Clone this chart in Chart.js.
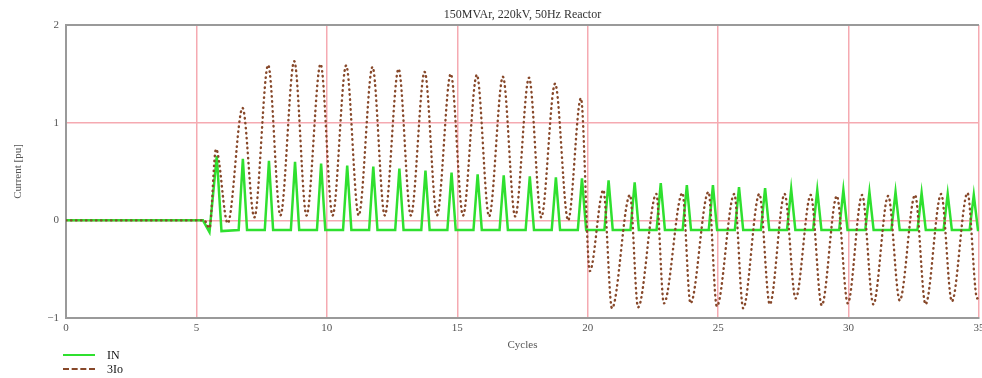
<!DOCTYPE html>
<html>
<head>
<meta charset="utf-8">
<script src="https://cdn.jsdelivr.net/npm/chart.js@4.4.1/dist/chart.umd.min.js"></script>
<style>
  html, body { margin: 0; padding: 0; background: #fff; width: 982px; height: 378px; overflow: hidden; }
  #wrap { position: relative; width: 992px; height: 378px; }
  #legend { position: absolute; left: 63px; top: 348px; font: 12px 'Liberation Serif', serif; color: #111; }
  .row { display: flex; align-items: center; height: 14px; }
  .sw { width: 32px; height: 0; margin-right: 12px; }
</style>
</head>
<body>
<div id="wrap">
  <canvas id="c" width="992" height="378"></canvas>
  <div id="legend"></div>
</div>
<script>
// ---- Data ----
const chartTitle = '150MVAr, 220kV, 50Hz Reactor';
const xTitle = 'Cycles';
const yTitle = 'Current [pu]';
const xTicks = [0, 5, 10, 15, 20, 25, 30, 35];
const yTicks = [-1, 0, 1, 2];
const yTickLabels = ['\u22121', '0', '1', '2'];
const seriesNames = ['IN', '3Io'];

// 3Io turning points (cycles, pu)
const io3Times = [0, 5.3, 5.5, 5.75, 6.2,
  6.77, 7.22, 7.75, 8.22, 8.75,
  9.22, 9.76, 10.22, 10.74, 11.22,
  11.75, 12.22, 12.75, 13.22, 13.75,
  14.22, 14.75, 15.22, 15.75, 16.22,
  16.75, 17.22, 17.75, 18.22, 18.75,
  19.25, 19.74, 20.08, 20.6, 20.93,
  21.62, 21.93, 22.63, 22.92, 23.63,
  23.94, 24.63, 24.95, 25.62, 25.96,
  26.58, 26.98, 27.55, 27.97, 28.55,
  28.97, 29.55, 29.97, 30.52, 30.95,
  31.52, 31.96, 32.55, 32.95, 33.55,
  33.96, 34.56, 34.93, 35];
const io3Values = [0, 0, -0.08, 0.73, -0.03,
  1.15, 0.03, 1.59, 0.05, 1.63,
  0.05, 1.60, 0.05, 1.585, 0.05,
  1.57, 0.05, 1.55, 0.05, 1.52,
  0.05, 1.50, 0.05, 1.49, 0.04,
  1.47, 0.04, 1.46, 0.03, 1.40,
  0.0, 1.25, -0.52, 0.31, -0.90,
  0.26, -0.89, 0.27, -0.85, 0.28,
  -0.85, 0.29, -0.88, 0.27, -0.90,
  0.27, -0.86, 0.27, -0.80, 0.26,
  -0.87, 0.25, -0.85, 0.26, -0.86,
  0.25, -0.82, 0.26, -0.86, 0.27,
  -0.83, 0.28, -0.80, -0.78];

// IN turning points (cycles, pu)
const inTimes = [0, 5.25, 5.5, 5.78, 5.96,
  6.62, 6.78, 6.94, 7.62, 7.78, 7.94, 8.62, 8.78, 8.94, 9.62, 9.78, 9.94,
  10.62, 10.78, 10.94, 11.62, 11.78, 11.94, 12.62, 12.78, 12.94, 13.62, 13.78, 13.94,
  14.62, 14.78, 14.94, 15.62, 15.78, 15.94, 16.62, 16.78, 16.94, 17.62, 17.78, 17.94,
  18.62, 18.78, 18.94, 19.62, 19.78, 19.94, 20.64, 20.8, 20.96, 21.64, 21.8, 21.96,
  22.64, 22.8, 22.96, 23.64, 23.8, 23.96, 24.64, 24.8, 24.96, 25.64, 25.8, 25.96,
  26.64, 26.8, 26.96, 27.64, 27.8, 27.96, 28.64, 28.8, 28.96, 29.64, 29.8, 29.96,
  30.64, 30.8, 30.96, 31.64, 31.8, 31.96, 32.64, 32.8, 32.96, 33.64, 33.8, 33.96,
  34.64, 34.8, 34.96, 35];
const inValues = [0, 0, -0.12, 0.66, -0.11,
  -0.1, 0.63, -0.1, -0.1, 0.61, -0.1, -0.1, 0.60, -0.1, -0.1, 0.58, -0.1,
  -0.1, 0.56, -0.1, -0.1, 0.55, -0.1, -0.1, 0.53, -0.1, -0.1, 0.51, -0.1,
  -0.1, 0.49, -0.1, -0.1, 0.47, -0.1, -0.1, 0.46, -0.1, -0.1, 0.45, -0.1,
  -0.1, 0.44, -0.1, -0.1, 0.43, -0.1, -0.1, 0.41, -0.1, -0.1, 0.39, -0.1,
  -0.1, 0.38, -0.1, -0.1, 0.36, -0.1, -0.1, 0.36, -0.1, -0.1, 0.34, -0.1,
  -0.1, 0.33, -0.1, -0.1, 0.32, -0.1, -0.1, 0.31, -0.1, -0.1, 0.31, -0.1,
  -0.1, 0.29, -0.1, -0.1, 0.29, -0.1, -0.1, 0.28, -0.1, -0.1, 0.27, -0.1,
  -0.1, 0.26, -0.1, -0.1];

// ---- Chart ----
const toPts = (xs, ys) => xs.map((x, i) => ({ x: x, y: ys[i] }));
const serif = "'Liberation Serif', 'Times New Roman', serif";
const gridPink = '#f5aab1';
const axisGray = '#9a9a9a';

const chart = new Chart(document.getElementById('c'), {
  type: 'line',
  data: {
    datasets: [
      {
        label: seriesNames[0],
        data: toPts(inTimes, inValues),
        borderColor: '#2fe02f',
        borderWidth: 2.5,
        pointRadius: 0,
        tension: 0,
        order: 1
      },
      {
        label: seriesNames[1],
        data: toPts(io3Times, io3Values),
        borderColor: '#87482a',
        borderWidth: 2.4,
        borderDash: [0.5, 4.5],
        borderCapStyle: 'round',
        cubicInterpolationMode: 'monotone',
        pointRadius: 0,
        order: 0
      }
    ]
  },
  options: {
    responsive: false,
    animation: false,
    devicePixelRatio: 1,
    layout: { padding: { left: 0, right: 13, top: 0, bottom: 0 } },
    plugins: {
      legend: { display: false },
      tooltip: { enabled: false },
      title: {
        display: true,
        text: chartTitle,
        fullSize: false,
        color: '#333',
        font: { family: serif, size: 12, weight: 'normal' },
        padding: { top: 8, bottom: 2.6 }
      }
    },
    scales: {
      x: {
        type: 'linear',
        min: xTicks[0],
        max: xTicks[xTicks.length - 1],
        afterBuildTicks: s => { s.ticks = xTicks.map(v => ({ value: v })); },
        afterFit: s => { s.height = 60; },
        ticks: {
          color: '#555',
          font: { family: serif, size: 11 },
          padding: 4,
          maxRotation: 0,
          autoSkip: false
        },
        grid: {
          drawTicks: false,
          color: c => (c.tick && c.tick.value === 0) ? 'rgba(0,0,0,0)' : gridPink,
          lineWidth: 1.5
        },
        border: { display: true, color: axisGray, width: 2 },
        title: {
          display: true,
          text: xTitle,
          color: '#555',
          font: { family: serif, size: 11 },
          padding: { top: 0, bottom: 26.4 }
        }
      },
      y: {
        min: yTicks[0],
        max: yTicks[yTicks.length - 1],
        afterBuildTicks: s => { s.ticks = yTicks.map(v => ({ value: v })); },
        afterFit: s => { s.width = 66; },
        ticks: {
          color: '#555',
          font: { family: serif, size: 11 },
          padding: 7,
          callback: v => yTickLabels[yTicks.indexOf(v)]
        },
        grid: {
          drawTicks: false,
          color: c => {
            const v = c.tick ? c.tick.value : null;
            if (v === 2) return axisGray;
            if (v === -1) return 'rgba(0,0,0,0)';
            return gridPink;
          },
          lineWidth: c => (c.tick && c.tick.value === 2) ? 2 : 1.5
        },
        border: { display: true, color: axisGray, width: 2 },
        title: {
          display: true,
          text: yTitle,
          color: '#555',
          font: { family: serif, size: 11 },
          padding: { top: 11.4, bottom: 0 }
        }
      }
    }
  }
});

// HTML legend built from the datasets
const legendEl = document.getElementById('legend');
chart.data.datasets.forEach(ds => {
  const row = document.createElement('div');
  row.className = 'row';
  const sw = document.createElement('span');
  sw.className = 'sw';
  sw.style.borderTop = ds.borderDash ? '2px dashed ' + ds.borderColor : '2.5px solid ' + ds.borderColor;
  const tx = document.createElement('span');
  tx.textContent = ds.label;
  row.appendChild(sw);
  row.appendChild(tx);
  legendEl.appendChild(row);
});
</script>
</body>
</html>
